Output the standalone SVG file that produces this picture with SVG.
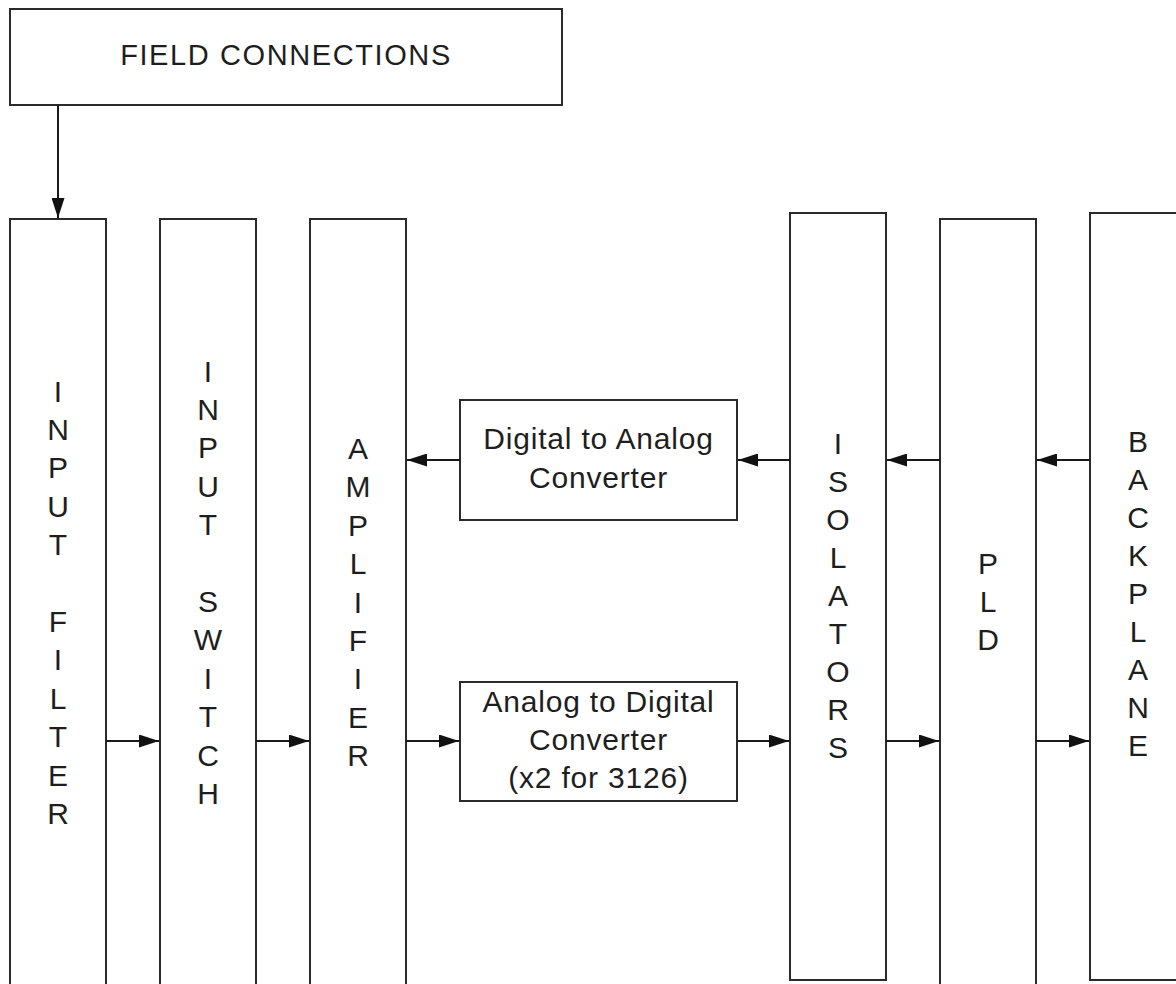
<svg xmlns="http://www.w3.org/2000/svg" width="1176" height="984" viewBox="0 0 1176 984">
  <defs>
    <marker id="arrow" markerUnits="userSpaceOnUse" markerWidth="20" markerHeight="13" refX="20" refY="6.5" orient="auto">
      <path d="M0,0 L20,6.5 L0,13 z" fill="#111"/>
    </marker>
    <style>
      .box { fill: #fff; stroke: #2b2b2b; stroke-width: 2; }
      .lbl { font-family: "Liberation Sans", Arial, sans-serif; font-size: 30px; fill: #1e1e1e; text-anchor: middle; }
      .h { letter-spacing: 0.8px; }
      .title { font-size: 29px; letter-spacing: 1.6px; }
      .conn { stroke: #1a1a1a; stroke-width: 2; fill: none; marker-end: url(#arrow); }
    </style>
  </defs>
  <rect width="1176" height="984" fill="#fff"/>

  <g id="field-connections">
    <rect class="box" x="10" y="9" width="552" height="96"/>
    <text class="lbl title" x="286" y="64.5">FIELD CONNECTIONS</text>
  </g>

  <g id="input-filter">
    <rect class="box" x="10" y="219" width="96" height="800"/>
    <text class="lbl" x="58" y="401.5">
      <tspan x="58">I</tspan><tspan x="58" dy="38.4">N</tspan><tspan x="58" dy="38.4">P</tspan><tspan x="58" dy="38.4">U</tspan><tspan x="58" dy="38.4">T</tspan><tspan x="58" dy="76.8">F</tspan><tspan x="58" dy="38.4">I</tspan><tspan x="58" dy="38.4">L</tspan><tspan x="58" dy="38.4">T</tspan><tspan x="58" dy="38.4">E</tspan><tspan x="58" dy="38.4">R</tspan>
    </text>
  </g>

  <g id="input-switch">
    <rect class="box" x="160" y="219" width="96" height="800"/>
    <text class="lbl" x="208" y="381.5">
      <tspan x="208">I</tspan><tspan x="208" dy="38.4">N</tspan><tspan x="208" dy="38.4">P</tspan><tspan x="208" dy="38.4">U</tspan><tspan x="208" dy="38.4">T</tspan><tspan x="208" dy="76.8">S</tspan><tspan x="208" dy="38.4">W</tspan><tspan x="208" dy="38.4">I</tspan><tspan x="208" dy="38.4">T</tspan><tspan x="208" dy="38.4">C</tspan><tspan x="208" dy="38.4">H</tspan>
    </text>
  </g>

  <g id="amplifier">
    <rect class="box" x="310" y="219" width="96" height="800"/>
    <text class="lbl" x="358" y="459">
      <tspan x="358">A</tspan><tspan x="358" dy="38.4">M</tspan><tspan x="358" dy="38.4">P</tspan><tspan x="358" dy="38.4">L</tspan><tspan x="358" dy="38.4">I</tspan><tspan x="358" dy="38.4">F</tspan><tspan x="358" dy="38.4">I</tspan><tspan x="358" dy="38.4">E</tspan><tspan x="358" dy="38.4">R</tspan>
    </text>
  </g>

  <g id="dac">
    <rect class="box" x="460" y="400" width="277" height="120"/>
    <text class="lbl h" x="598.5" y="449">Digital to Analog</text>
    <text class="lbl h" x="598.5" y="488">Converter</text>
  </g>

  <g id="adc">
    <rect class="box" x="460" y="682" width="277" height="119"/>
    <text class="lbl h" x="598.5" y="712">Analog to Digital</text>
    <text class="lbl h" x="598.5" y="750">Converter</text>
    <text class="lbl h" x="598.5" y="788">(x2 for 3126)</text>
  </g>

  <g id="isolators">
    <rect class="box" x="790" y="213" width="96" height="767"/>
    <text class="lbl" x="838" y="453.5">
      <tspan x="838">I</tspan><tspan x="838" dy="38.1">S</tspan><tspan x="838" dy="38.1">O</tspan><tspan x="838" dy="38.1">L</tspan><tspan x="838" dy="38.1">A</tspan><tspan x="838" dy="38.1">T</tspan><tspan x="838" dy="38.1">O</tspan><tspan x="838" dy="38.1">R</tspan><tspan x="838" dy="38.1">S</tspan>
    </text>
  </g>

  <g id="pld">
    <rect class="box" x="940" y="219" width="96" height="800"/>
    <text class="lbl" x="988" y="574">
      <tspan x="988">P</tspan><tspan x="988" dy="38">L</tspan><tspan x="988" dy="38">D</tspan>
    </text>
  </g>

  <g id="backplane">
    <rect class="box" x="1090" y="213" width="120" height="767"/>
    <text class="lbl" x="1138" y="451.5">
      <tspan x="1138">B</tspan><tspan x="1138" dy="38.1">A</tspan><tspan x="1138" dy="38.1">C</tspan><tspan x="1138" dy="38.1">K</tspan><tspan x="1138" dy="38.1">P</tspan><tspan x="1138" dy="38.1">L</tspan><tspan x="1138" dy="38.1">A</tspan><tspan x="1138" dy="38.1">N</tspan><tspan x="1138" dy="38.1">E</tspan>
    </text>
  </g>

  <g id="connectors">
    <line class="conn" x1="58" y1="105" x2="58" y2="218"/>
    <line class="conn" x1="106" y1="741" x2="159" y2="741"/>
    <line class="conn" x1="256" y1="741" x2="309" y2="741"/>
    <line class="conn" x1="406" y1="741" x2="459" y2="741"/>
    <line class="conn" x1="737" y1="741" x2="789" y2="741"/>
    <line class="conn" x1="886" y1="741" x2="939" y2="741"/>
    <line class="conn" x1="1036" y1="741" x2="1089" y2="741"/>
    <line class="conn" x1="460" y1="460" x2="407" y2="460"/>
    <line class="conn" x1="790" y1="460" x2="738" y2="460"/>
    <line class="conn" x1="940" y1="460" x2="887" y2="460"/>
    <line class="conn" x1="1090" y1="460" x2="1037" y2="460"/>
  </g>
</svg>
